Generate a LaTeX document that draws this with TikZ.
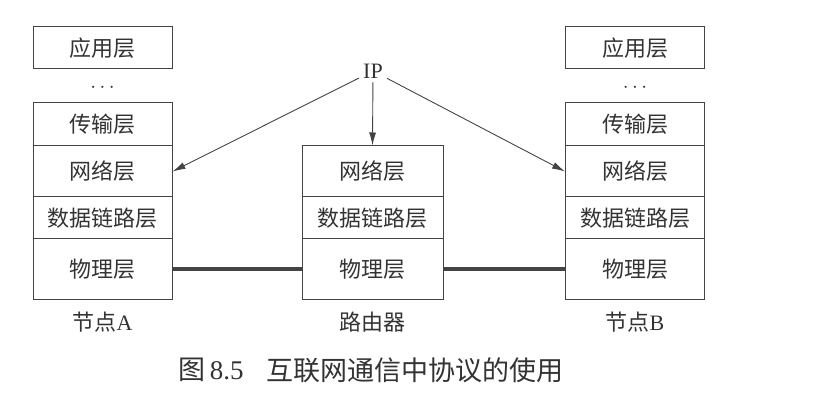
\documentclass[tikz,border=0pt]{standalone}
\usepackage{fontspec}
\setmainfont{Liberation Serif}
\newfontfamily\cjk{Noto Sans CJK SC}
\usetikzlibrary{arrows.meta}
\definecolor{linegray}{HTML}{444444}
\definecolor{textgray}{HTML}{333333}
\begin{document}
\begin{tikzpicture}[x=1pt,y=-1pt,
  layer/.style={draw=linegray, line width=1pt, inner sep=0pt, text=textgray,
    font=\cjk\fontsize{22}{22}\selectfont},
  sidebox/.style={layer, minimum width=139pt},
  midbox/.style={layer, minimum width=141pt},
  lbl/.style={inner sep=0pt, text=textgray, font=\fontsize{22}{22}\selectfont},
  ptr/.style={draw=linegray, line width=0.9pt, -{Latex[length=13pt,width=7pt]}},
  wire/.style={draw=linegray, line width=4pt},
]
\useasboundingbox (0,0) rectangle (825,395);

% Node A
\node[sidebox, minimum height=42pt] (aApp) at (102.5,48) {应用层};
\node[lbl] (aDots) at (102.5,88) {$\cdots$};
\node[sidebox, minimum height=43pt] (aTrans) at (102.5,124.5) {传输层};
\node[sidebox, minimum height=51pt] (aNet) at (102.5,171.5) {网络层};
\node[sidebox, minimum height=42pt] (aLink) at (102.5,218) {数据链路层};
\node[sidebox, minimum height=61pt] (aPhy) at (102.5,269.5) {物理层};
\node[lbl] (aName) at (102.5,322) {{\cjk 节点}A};

% Router
\node[midbox, minimum height=51pt] (rNet) at (372.5,171.5) {网络层};
\node[midbox, minimum height=42pt] (rLink) at (372.5,218) {数据链路层};
\node[midbox, minimum height=61pt] (rPhy) at (372.5,269.5) {物理层};
\node[lbl] (rName) at (372.5,322) {\cjk 路由器};

% Node B
\node[sidebox, minimum height=42pt] (bApp) at (635,48) {应用层};
\node[lbl] (bDots) at (635,88) {$\cdots$};
\node[sidebox, minimum height=43pt] (bTrans) at (635,124.5) {传输层};
\node[sidebox, minimum height=51pt] (bNet) at (635,171.5) {网络层};
\node[sidebox, minimum height=42pt] (bLink) at (635,218) {数据链路层};
\node[sidebox, minimum height=61pt] (bPhy) at (635,269.5) {物理层};
\node[lbl] (bName) at (635,322) {{\cjk 节点}B};

% IP
\node[lbl, inner sep=4pt] (ip) at (373,71) {IP};
\draw[ptr] (ip) -- (aNet.east);
\draw[ptr] (ip) -- (rNet.north);
\draw[ptr] (ip) -- (bNet.west);

% physical links
\draw[wire] (aPhy.east) -- (rPhy.west);
\draw[wire] (rPhy.east) -- (bPhy.west);

% caption
\node[lbl, font=\fontsize{27}{27}\selectfont] (capNum) at (211,370) {{\cjk 图}\,8.5};
\node[lbl, font=\cjk\fontsize{27}{27}\selectfont] (capText) at (415,370) {互联网通信中协议的使用};
\end{tikzpicture}
\end{document}
